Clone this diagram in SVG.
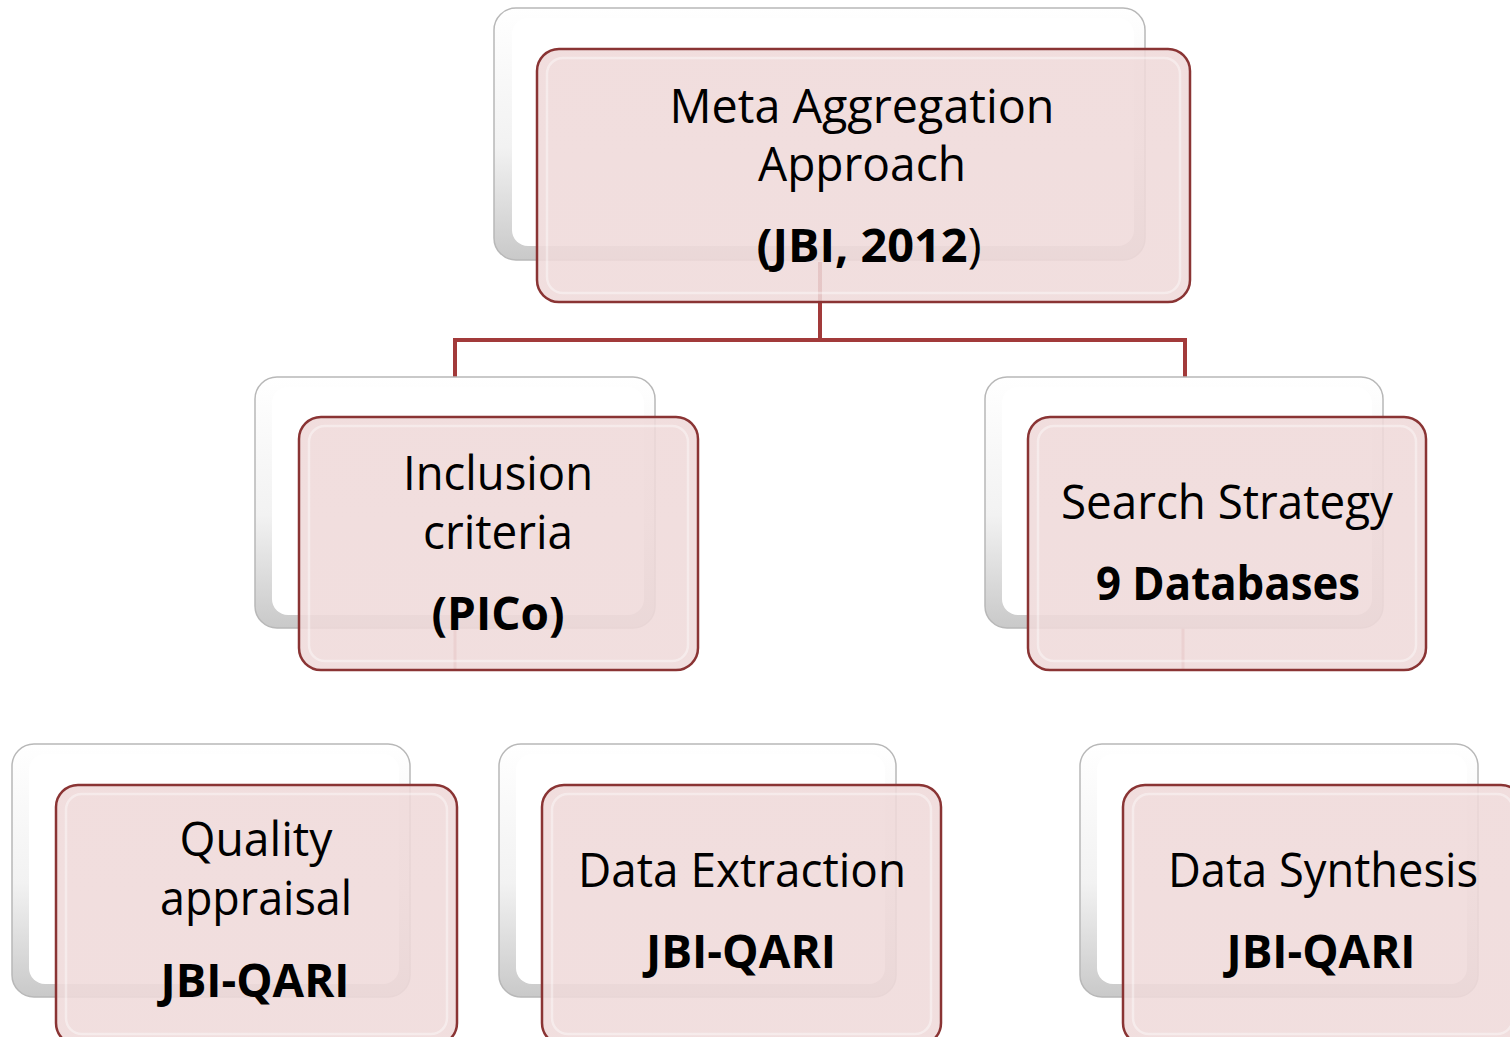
<svg xmlns="http://www.w3.org/2000/svg" width="1510" height="1037" viewBox="0 0 1510 1037">
<defs>
<linearGradient id="backGrad" x1="0" y1="0" x2="0" y2="1">
<stop offset="0" stop-color="#ffffff"/>
<stop offset="0.55" stop-color="#f2f2f2"/>
<stop offset="1" stop-color="#c9c9c9"/>
</linearGradient>
<linearGradient id="frontGrad" x1="0" y1="0" x2="0" y2="1">
<stop offset="0" stop-color="#efd9d9"/>
<stop offset="1" stop-color="#efdada"/>
</linearGradient>
</defs>
<style>
.back{fill:url(#backGrad);stroke:#b8b8b8;stroke-width:1.5}
.backin{fill:#ffffff;stroke:none}
.front{fill:url(#frontGrad);fill-opacity:0.88;stroke:#8a3434;stroke-width:2.5}
.frontin{fill:none;stroke:#ffffff;stroke-opacity:0.4;stroke-width:2.5}
.conn{fill:none;stroke:#a23a3a;stroke-width:4}
.faint{fill:none;stroke:#b04848;stroke-width:3;stroke-opacity:0.6}
.t{font-family:"Open Sans","Liberation Sans",sans-serif;font-size:47px;fill:#000;text-anchor:middle}
.b{font-weight:bold}
.n{font-weight:normal}
</style>
<g id="connectors">
<path class="conn" d="M820,262 V340 H455 V377 M820,340 H1185 V377"/>
<path class="faint" d="M455,628 V670 M1183,628 V670"/>
</g>
<g id="node-meta">
<rect class="back" x="494" y="8" width="651" height="252" rx="22"/>
<rect class="backin" x="512" y="18" width="622" height="228" rx="16"/>
<rect class="front" x="537" y="49" width="653" height="253" rx="22"/>
<rect class="frontin" x="547" y="58" width="633" height="235" rx="16"/>
<text class="t" x="862" y="123" textLength="385" lengthAdjust="spacingAndGlyphs">Meta Aggregation</text>
<text class="t" x="862" y="181" textLength="208" lengthAdjust="spacingAndGlyphs">Approach</text>
<text class="t b" x="869" y="262" textLength="225" lengthAdjust="spacingAndGlyphs">(JBI, 2012<tspan class="n">)</tspan></text>
</g>
<g id="node-inclusion">
<rect class="back" x="255" y="377" width="400" height="251" rx="22"/>
<rect class="backin" x="272" y="387" width="372" height="228" rx="16"/>
<rect class="front" x="299" y="417" width="399" height="253" rx="22"/>
<rect class="frontin" x="309" y="426" width="379" height="235" rx="16"/>
<text class="t" x="498" y="490" textLength="190" lengthAdjust="spacingAndGlyphs">Inclusion</text>
<text class="t" x="498" y="549" textLength="150" lengthAdjust="spacingAndGlyphs">criteria</text>
<text class="t b" x="498" y="630" textLength="133" lengthAdjust="spacingAndGlyphs">(PICo)</text>
</g>
<g id="node-search">
<rect class="back" x="985" y="377" width="398" height="251" rx="22"/>
<rect class="backin" x="1002" y="387" width="370" height="228" rx="16"/>
<rect class="front" x="1028" y="417" width="398" height="253" rx="22"/>
<rect class="frontin" x="1038" y="426" width="378" height="235" rx="16"/>
<text class="t" x="1227" y="519" textLength="332" lengthAdjust="spacingAndGlyphs">Search Strategy</text>
<text class="t b" x="1228" y="600" textLength="264" lengthAdjust="spacingAndGlyphs">9 Databases</text>
</g>
<g id="node-quality">
<rect class="back" x="12" y="744" width="398" height="253" rx="22"/>
<rect class="backin" x="29" y="754" width="370" height="230" rx="16"/>
<rect class="front" x="56" y="785" width="401" height="260" rx="22"/>
<rect class="frontin" x="66" y="794" width="381" height="240" rx="16"/>
<text class="t" x="256" y="856" textLength="153" lengthAdjust="spacingAndGlyphs">Quality</text>
<text class="t" x="256" y="915" textLength="192" lengthAdjust="spacingAndGlyphs">appraisal</text>
<text class="t b" x="255" y="997" textLength="189" lengthAdjust="spacingAndGlyphs">JBI-QARI</text>
</g>
<g id="node-extraction">
<rect class="back" x="499" y="744" width="397" height="253" rx="22"/>
<rect class="backin" x="516" y="754" width="369" height="230" rx="16"/>
<rect class="front" x="542" y="785" width="399" height="260" rx="22"/>
<rect class="frontin" x="552" y="794" width="379" height="240" rx="16"/>
<text class="t" x="742" y="887" textLength="328" lengthAdjust="spacingAndGlyphs">Data Extraction</text>
<text class="t b" x="741" y="968" textLength="190" lengthAdjust="spacingAndGlyphs">JBI-QARI</text>
</g>
<g id="node-synthesis">
<rect class="back" x="1080" y="744" width="398" height="253" rx="22"/>
<rect class="backin" x="1097" y="754" width="370" height="230" rx="16"/>
<rect class="front" x="1123" y="785" width="400" height="260" rx="22"/>
<rect class="frontin" x="1133" y="794" width="380" height="240" rx="16"/>
<text class="t" x="1323" y="887" textLength="310" lengthAdjust="spacingAndGlyphs">Data Synthesis</text>
<text class="t b" x="1321" y="968" textLength="189" lengthAdjust="spacingAndGlyphs">JBI-QARI</text>
</g>
</svg>
